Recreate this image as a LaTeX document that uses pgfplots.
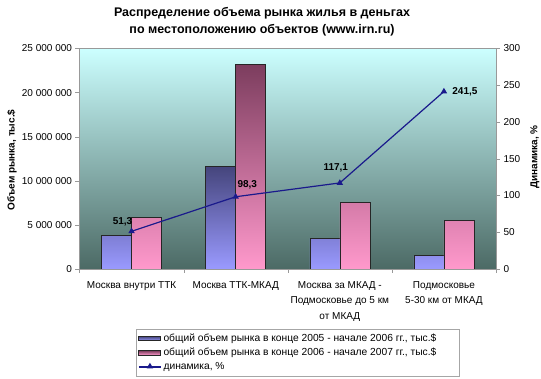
\documentclass[border=0pt]{standalone}
\usepackage{fontspec}
\setmainfont{Liberation Sans}
\usepackage{pgfplots}
\pgfplotsset{compat=1.18}
\definecolor{bgtop}{HTML}{CCFFFF}
\definecolor{bgbot}{HTML}{4C6A65}
\definecolor{bluetop}{HTML}{45457C}
\definecolor{bluebot}{HTML}{9A9AFF}
\definecolor{pinktop}{HTML}{7C3D5E}
\definecolor{pinkbot}{HTML}{FF99CC}
\definecolor{linecol}{HTML}{1A1A8C}
\begin{document}
\begin{tikzpicture}
\path[use as bounding box] (-79.5pt,-110pt) rectangle (461.5pt,269pt);
\begin{axis}[
  at={(0pt,0pt)}, anchor=south west,
  scale only axis, width=416.5pt, height=220.5pt,
  xmin=-0.5, xmax=3.5, ymin=0, ymax=25000000,
  axis background/.style={top color=bgtop, bottom color=bgbot},
  axis line style={draw=gray!80},
  tick style={draw=gray!80},
  tick align=outside,
  xtick pos=bottom, ytick pos=left,
  xtick={0,1,2,3},
  major x tick style={draw=none},
  minor xtick={-0.5,0.5,1.5,2.5,3.5},
  minor tick length=4pt, major tick length=4pt,
  xticklabels={{Москва внутри ТТК},{Москва ТТК-МКАД},{Москва за МКАД -\\Подмосковье до 5 км\\от МКАД},{Подмосковье\\5-30 км от МКАД}},
  xticklabel style={align=center, font=\fontsize{10}{15.5}\selectfont, yshift=-5pt},
  ytick={0,5000000,10000000,15000000,20000000,25000000},
  scaled y ticks=false,
  /pgf/number format/assume math mode=true,
  yticklabel style={/pgf/number format/fixed, /pgf/number format/1000 sep={\ }, font=\fontsize{10}{12}\selectfont},
]
\addplot[ybar, bar width=0.288, bar shift=-0.144, draw=black!85, line width=0.6pt, top color=bluetop, bottom color=bluebot]
  coordinates {(0,3780000) (1,11640000) (2,3440000) (3,1510000)};
\addplot[ybar, bar width=0.288, bar shift=0.144, draw=black!85, line width=0.6pt, top color=pinktop, bottom color=pinkbot]
  coordinates {(0,5860000) (1,23200000) (2,7560000) (3,5520000)};
\end{axis}
\begin{axis}[
  at={(0pt,0pt)}, anchor=south west,
  scale only axis, width=416.5pt, height=220.5pt,
  xmin=-0.5, xmax=3.5, ymin=0, ymax=300,
  axis x line=none,
  axis y line*=right,
  axis line style={draw=gray!80},
  tick style={draw=gray!80},
  tick align=outside, major tick length=4pt,
  ytick={0,50,100,150,200,250,300},
  /pgf/number format/assume math mode=true,
  yticklabel style={font=\fontsize{10}{12}\selectfont},
  legend style={at={(0.136,-0.485)}, anchor=south west, draw=gray!70, fill=white,
    font=\fontsize{10.25}{12}\selectfont, inner xsep=2pt, inner ysep=2.5pt, row sep=1.2pt,
    nodes={inner xsep=2pt}},
  legend cell align=left,
]
\addlegendimage{legend image code/.code={\draw[draw=black!85, line width=0.9pt, top color=bluetop, bottom color=bluebot] (0pt,-2.2pt) rectangle (22pt,2.2pt);}}
\addlegendentry{общий объем рынка в конце 2005 - начале 2006 гг., тыс.\$\rule{19pt}{0pt}}
\addlegendimage{legend image code/.code={\draw[draw=black!85, line width=0.9pt, top color=pinktop, bottom color=pinkbot] (0pt,-2.2pt) rectangle (22pt,2.2pt);}}
\addlegendentry{общий объем рынка в конце 2006 - начале 2007 гг., тыс.\$}
\addplot[color=linecol, line width=1.2pt, mark=triangle*, mark size=2.5pt, mark options={fill=linecol},
  legend image code/.code={\draw[color=linecol, line width=1.2pt] (0pt,0pt) -- (22pt,0pt); \fill[linecol] (11pt,0.5pt) +(90:2.5pt) -- +(210:2.5pt) -- +(330:2.5pt) -- cycle;}]
  coordinates {(0,51.3) (1,98.3) (2,117.1) (3,241.5)};
\addlegendentry{динамика, \%}
\node[font=\bfseries\fontsize{10}{12}\selectfont, xshift=-9pt, yshift=10pt] at (axis cs:0,51.3) {51,3};
\node[font=\bfseries\fontsize{10}{12}\selectfont, xshift=11.6pt, yshift=11.7pt] at (axis cs:1,98.3) {98,3};
\node[font=\bfseries\fontsize{10}{12}\selectfont, xshift=-4pt, yshift=14.7pt] at (axis cs:2,117.1) {117,1};
\node[font=\bfseries\fontsize{10}{12}\selectfont, xshift=21pt, yshift=0pt] at (axis cs:3,241.5) {241,5};
\end{axis}
\node[align=center, font=\bfseries\fontsize{12.5}{17}\selectfont] at (182.5pt,247.5pt) {Распределение объема рынка жилья в деньгах\\по местоположению объектов (www.irn.ru)};
\node[rotate=90, font=\bfseries\fontsize{10}{12}\selectfont] at (-67.5pt,109pt) {Объем рынка, тыс.\$};
\node[rotate=90, font=\bfseries\fontsize{10}{12}\selectfont] at (455.5pt,112pt) {Динамика, \%};
\end{tikzpicture}
\end{document}
